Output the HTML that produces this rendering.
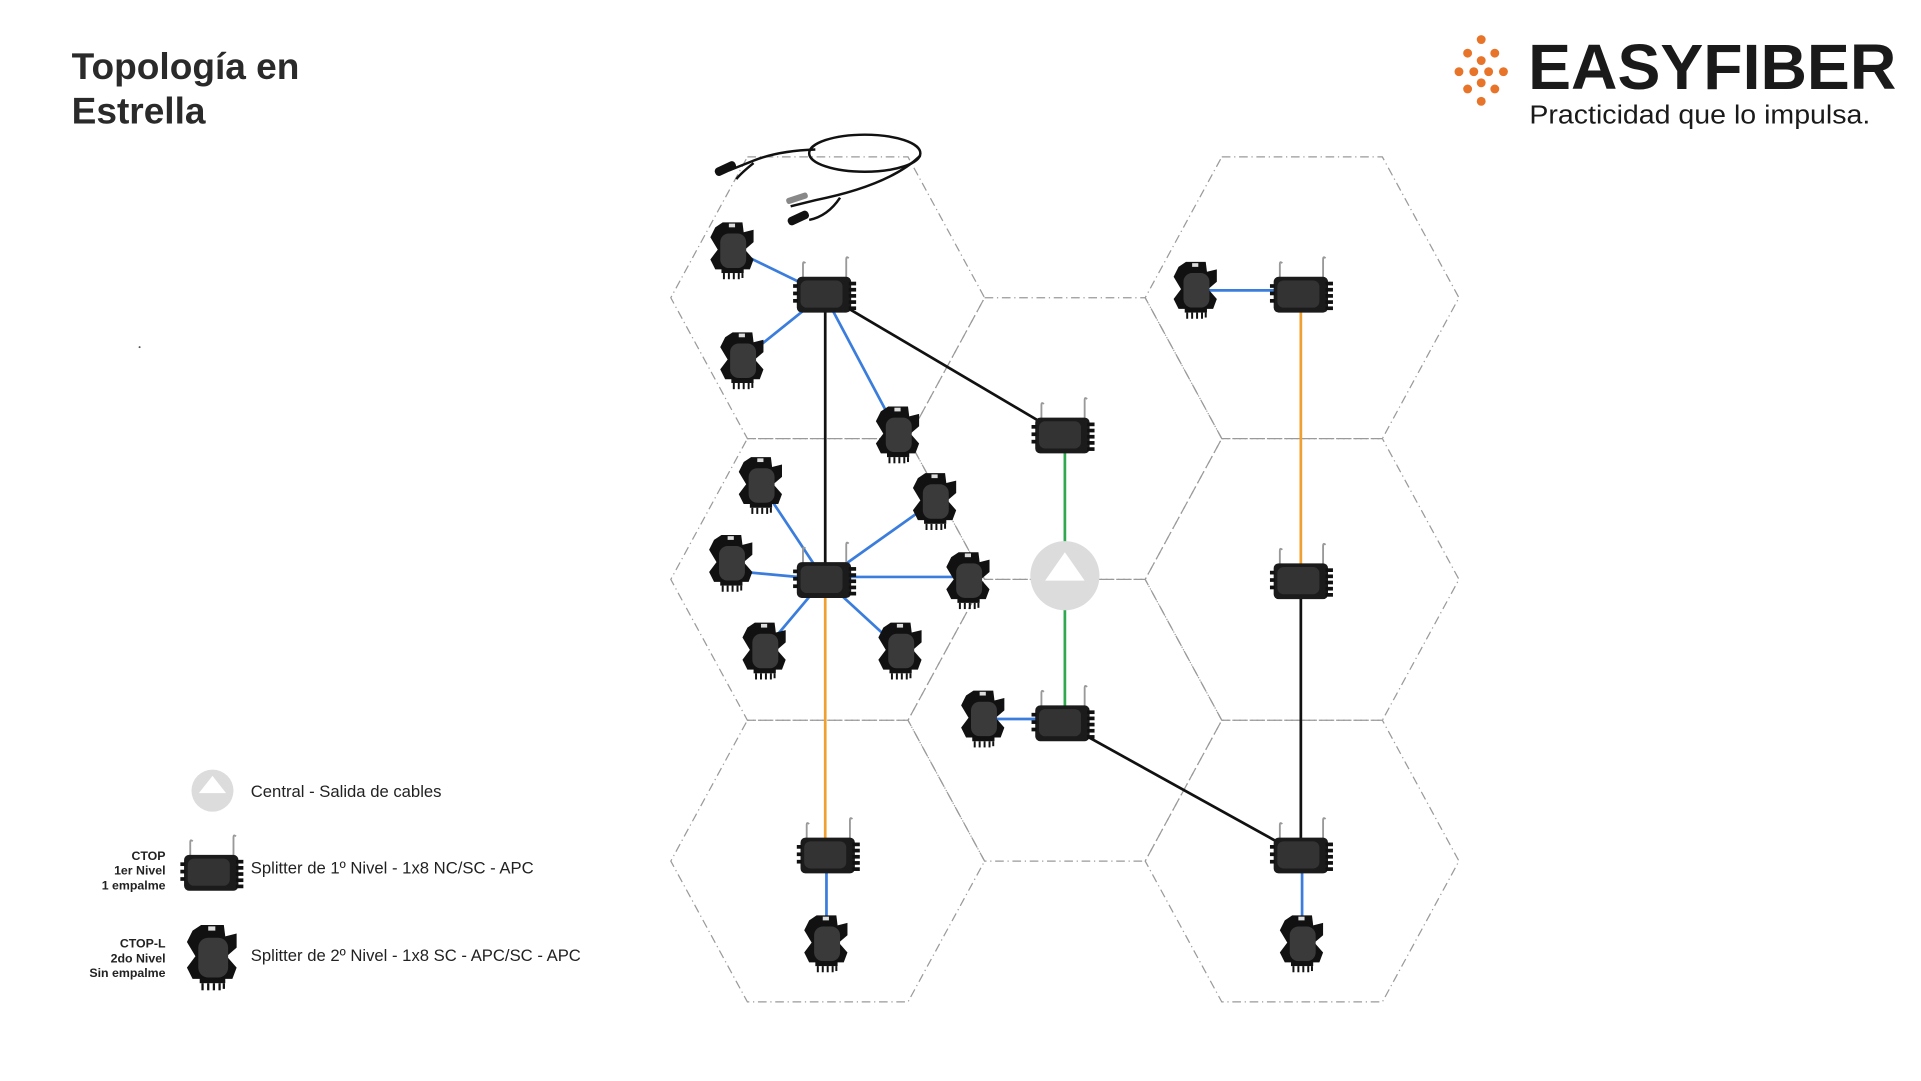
<!DOCTYPE html>
<html><head><meta charset="utf-8"><style>
html,body{margin:0;padding:0;background:#fff;}
svg{display:block}
</style></head><body>
<svg width="1921" height="1081" viewBox="0 0 1555 875" xmlns="http://www.w3.org/2000/svg" font-family="Liberation Sans, sans-serif">
<defs>
<g id="hex"><polygon points="-65,-114 65,-114 127,0 65,114 -65,114 -127,0" fill="none" stroke="#9a9a9a" stroke-width="1" stroke-dasharray="7,3,1,3"/></g>
<g id="ctop">
 <path d="M-17,-12 L-17,-24 Q-17,-27 -15,-25" fill="none" stroke="#999" stroke-width="1.5"/>
 <path d="M18,-12 L18,-28 Q18,-31 20,-29" fill="none" stroke="#999" stroke-width="1.5"/>
 <rect x="-22" y="-14" width="44" height="29" rx="4" fill="#1b1b1b"/>
 <rect x="-19" y="-11" width="34" height="22" rx="5" fill="#333"/>
 <rect x="-25" y="-8" width="4" height="3" fill="#111"/><rect x="-25" y="-2" width="4" height="3" fill="#111"/><rect x="-25" y="4" width="4" height="3" fill="#111"/>
 <rect x="20" y="-10" width="6" height="3" fill="#111"/><rect x="20" y="-5" width="6" height="3" fill="#111"/><rect x="20" y="0" width="6" height="3" fill="#111"/><rect x="20" y="5" width="6" height="3" fill="#111"/><rect x="20" y="10" width="6" height="3" fill="#111"/>
</g>
<g id="ctopl">
 <polygon points="-8,-22 8,-22 9,-14 17,-16 17,-6 10,0 17,8 14,16 -14,16 -18,8 -12,0 -18,-10 -14,-18" fill="#111"/>
 <rect x="-10" y="-13" width="21" height="28" rx="7" fill="#3a3a3a"/>
 <rect x="-9" y="15" width="18" height="4" fill="#111"/>
 <g stroke="#111" stroke-width="1.6"><line x1="-7" y1="19" x2="-7" y2="24"/><line x1="-3" y1="19" x2="-3" y2="24"/><line x1="1" y1="19" x2="1" y2="24"/><line x1="5" y1="19" x2="5" y2="24"/><line x1="8" y1="19" x2="8" y2="23"/></g>
 <rect x="-3" y="-21" width="5" height="3" fill="#ddd"/>
</g>
</defs>

<text x="58" y="64" font-size="30" font-weight="bold" fill="#2a2a2a">Topología en</text>
<text x="58" y="100" font-size="30" font-weight="bold" fill="#2a2a2a">Estrella</text>
<circle cx="113" cy="281" r="0.8" fill="#555"/>

<g fill="#e8742a">
 <circle cx="1199" cy="32" r="3.6"/>
 <circle cx="1188" cy="43" r="3.6"/><circle cx="1210" cy="43" r="3.6"/>
 <circle cx="1199" cy="49" r="3.6"/>
 <circle cx="1181" cy="58" r="3.6"/><circle cx="1193" cy="58" r="3.6"/><circle cx="1205" cy="58" r="3.6"/><circle cx="1217" cy="58" r="3.6"/>
 <circle cx="1199" cy="67" r="3.6"/>
 <circle cx="1188" cy="72" r="3.6"/><circle cx="1210" cy="72" r="3.6"/>
 <circle cx="1199" cy="82" r="3.6"/>
</g>
<text x="1237" y="72" font-size="52" font-weight="bold" fill="#1a1a1a" textLength="298" lengthAdjust="spacingAndGlyphs">EASYFIBER</text>
<text x="1238" y="100" font-size="21" fill="#1a1a1a" textLength="276" lengthAdjust="spacingAndGlyphs">Practicidad que lo impulsa.</text>

<use href="#hex" x="670" y="241"/><use href="#hex" x="670" y="469"/><use href="#hex" x="670" y="697"/>
<use href="#hex" x="862" y="355"/><use href="#hex" x="862" y="583"/>
<use href="#hex" x="1054" y="241"/><use href="#hex" x="1054" y="469"/><use href="#hex" x="1054" y="697"/>

<g fill="none" stroke="#111" stroke-width="2">
 <ellipse cx="700" cy="124" rx="45" ry="15"/>
 <path d="M745,126 Q720,150 660,162 L640,167"/>
 <path d="M660,121 Q630,122 610,130 L590,138"/>
 <path d="M610,132 Q600,140 596,145"/>
 <path d="M680,160 Q670,175 655,178"/>
</g>
<g fill="#111"><rect x="578" y="133" width="18" height="7" rx="3" transform="rotate(-25 587 136)"/><rect x="637" y="173" width="18" height="7" rx="3" transform="rotate(-25 646 176)"/></g>
<rect x="636" y="158" width="18" height="5" rx="2" fill="#888" transform="rotate(-18 645 160)"/>

<g stroke-width="2.2" fill="none">
 <g stroke="#3b7ddd">
  <line x1="667" y1="238" x2="593" y2="202"/><line x1="667" y1="238" x2="601" y2="291"/><line x1="667" y1="238" x2="727" y2="351"/>
  <line x1="667" y1="469" x2="616" y2="392"/><line x1="667" y1="469" x2="757" y2="405"/><line x1="667" y1="469" x2="592" y2="462"/>
  <line x1="667" y1="467" x2="784" y2="467"/><line x1="667" y1="469" x2="619" y2="526"/><line x1="667" y1="469" x2="729" y2="526"/>
  <line x1="968" y1="235" x2="1053" y2="235"/><line x1="796" y1="582" x2="860" y2="582"/>
  <line x1="669" y1="692" x2="669" y2="763"/><line x1="1054" y1="692" x2="1054" y2="763"/>
 </g>
 <g stroke="#111">
  <line x1="668" y1="238" x2="668" y2="469"/><line x1="667" y1="238" x2="860" y2="352"/>
  <line x1="860" y1="585" x2="1053" y2="692"/><line x1="1053" y1="470" x2="1053" y2="692"/>
 </g>
 <g stroke="#2fa84f"><line x1="862" y1="352" x2="862" y2="585"/></g>
 <g stroke="#f0a030"><line x1="668" y1="469" x2="668" y2="692"/><line x1="1053" y1="238" x2="1053" y2="470"/></g>
</g>

<circle cx="862" cy="466" r="28" fill="#dcdcdc"/>
<polygon points="862,447 846,470 878,470" fill="#fff"/>

<use href="#ctop" x="667" y="238"/><use href="#ctop" x="860" y="352"/><use href="#ctop" x="667" y="469"/>
<use href="#ctop" x="860" y="585"/><use href="#ctop" x="670" y="692"/><use href="#ctop" x="1053" y="238"/>
<use href="#ctop" x="1053" y="470"/><use href="#ctop" x="1053" y="692"/>
<use href="#ctopl" x="593" y="202"/><use href="#ctopl" x="601" y="291"/><use href="#ctopl" x="727" y="351"/>
<use href="#ctopl" x="616" y="392"/><use href="#ctopl" x="757" y="405"/><use href="#ctopl" x="592" y="455"/>
<use href="#ctopl" x="784" y="469"/><use href="#ctopl" x="619" y="526"/><use href="#ctopl" x="729" y="526"/>
<use href="#ctopl" x="968" y="234"/><use href="#ctopl" x="796" y="581"/><use href="#ctopl" x="669" y="763"/>
<use href="#ctopl" x="1054" y="763"/>

<circle cx="172" cy="640" r="17" fill="#dcdcdc"/>
<polygon points="172,628 161,642 183,642" fill="#fff"/>
<text x="203" y="645" font-size="13.5" fill="#222">Central - Salida de cables</text>
<use href="#ctop" x="171" y="706"/>
<text x="203" y="707" font-size="13.5" fill="#222">Splitter de 1º Nivel - 1x8 NC/SC - APC</text>
<g font-size="10" font-weight="bold" fill="#222" text-anchor="end">
 <text x="134" y="696">CTOP</text><text x="134" y="708">1er Nivel</text><text x="134" y="720">1 empalme</text>
 <text x="134" y="767">CTOP-L</text><text x="134" y="779">2do Nivel</text><text x="134" y="791">Sin empalme</text>
</g>
<use href="#ctopl" x="172" y="774" transform="translate(172 774) scale(1.15) translate(-172 -774)"/>
<text x="203" y="778" font-size="13.5" fill="#222">Splitter de 2º Nivel - 1x8 SC - APC/SC - APC</text>
</svg>
</body></html>
